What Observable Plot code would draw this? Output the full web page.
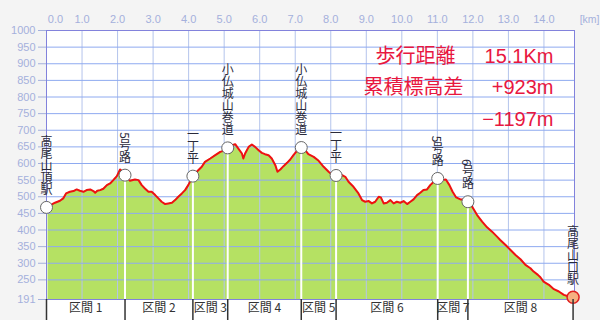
<!DOCTYPE html>
<html><head><meta charset="utf-8">
<script src="https://cdn.jsdelivr.net/npm/d3@7"></script>
<script src="https://cdn.jsdelivr.net/npm/@observablehq/plot@0.6"></script>
<style>
html,body{margin:0;padding:0;background:#f4f4f4;}
#chart svg{display:block;}
</style></head><body><div id="chart"></div>
<script>
// ---- data ----
const profileKm = [0.00,0.24,0.38,0.47,0.55,0.66,0.76,0.85,0.94,1.04,1.13,1.23,1.32,1.37,1.43,1.51,1.60,1.70,1.79,1.88,1.98,2.07,2.12,2.21,2.35,2.49,2.59,2.68,2.77,2.87,2.96,3.06,3.15,3.24,3.34,3.43,3.53,3.62,3.71,3.81,3.90,3.99,4.12,4.23,4.37,4.46,4.61,4.75,4.89,4.98,5.10,5.22,5.31,5.40,5.50,5.54,5.59,5.69,5.78,5.87,5.97,6.06,6.15,6.25,6.34,6.44,6.50,6.58,6.67,6.77,6.86,6.95,7.05,7.17,7.28,7.37,7.52,7.66,7.80,7.94,8.03,8.15,8.32,8.41,8.50,8.64,8.78,8.88,8.97,9.07,9.16,9.25,9.35,9.41,9.49,9.58,9.68,9.77,9.86,9.96,10.05,10.15,10.24,10.33,10.43,10.52,10.61,10.71,10.80,10.90,11.01,11.13,11.24,11.34,11.43,11.53,11.65,11.74,11.86,11.98,12.12,12.26,12.40,12.54,12.68,12.77,12.92,13.06,13.20,13.34,13.48,13.62,13.71,13.83,13.90,13.99,14.14,14.28,14.42,14.56,14.70,14.82];
const profileElev = [468,482,488,495,510,515,517,522,518,515,520,522,517,512,518,520,524,535,540,550,562,582,578,565,548,552,550,535,525,515,515,505,495,485,478,480,482,490,500,510,520,535,562,575,590,605,615,625,635,638,647,655,658,645,630,615,630,650,657,650,640,632,628,625,615,595,575,582,592,602,612,625,638,648,640,628,620,608,590,575,567,564,565,560,545,530,510,490,485,487,480,485,500,498,480,482,490,480,485,482,487,478,485,492,505,512,520,522,535,545,555,550,552,535,515,498,492,492,485,470,445,425,408,395,380,370,355,340,325,312,295,285,275,265,258,245,235,222,215,205,200,198];
const waypointNames = ["高尾山頂駅","5号路","一丁平","小仏城山巻道","小仏城山巻道","一丁平","5号路","6号路","高尾山口駅"];
const waypointKm = [0, 2.21, 4.12, 5.10, 7.17, 8.15, 11.01, 11.86, 14.82];
const waypointElev = [468, 565, 562, 647, 648, 564, 555, 485, 198];
const sectionLabels = ["区間 1","区間 2","区間 3","区間 4","区間 5","区間 6","区間 7","区間 8"];
const yTicks = [250,300,350,400,450,500,550,600,650,700,750,800,850,900,950,1000];
const yBottom = 191;
const xTicks = [0,1,2,3,4,5,6,7,8,9,10,11,12,13,14];
const xUnit = "[km]";
const summaryLabels = ["歩行距離","累積標高差",""];
const summaryValues = ["15.1Km","+923m","−1197m"];

// ---- layout ----
const W = 600, H = 320, mL = 46, mR = 26, mT = 30, mB = 21;
const xMax = 14.86;
const plotH = H - mT - mB;
const font = "'Liberation Sans', Arial, sans-serif";
const cjk = "'Noto Sans CJK JP', sans-serif";
const axisColor = "#a4b0dc";
const red = "#e8173f";
const summaryLabelDx = [-199, -211, 0];

const profile = profileKm.map((k, i) => ({km: k, elev: profileElev[i]}));
const waypoints = waypointNames.map((n, i) => ({name: n, km: waypointKm[i], elev: waypointElev[i]}));
const lastWp = waypoints.length - 1;
const sections = sectionLabels.map((s, i) => ({label: s, km: (waypointKm[i] + waypointKm[i + 1]) / 2}));

const summaryMarks = [];
summaryLabels.forEach((lab, i) => {
  const dy = 18 + 31.5 * i;
  if (lab) summaryMarks.push(Plot.text([lab], {text: d => d, frameAnchor: "top-right", dx: summaryLabelDx[i], dy, textAnchor: "start", fill: red, fontSize: 20, fontFamily: cjk}));
  summaryMarks.push(Plot.text([summaryValues[i]], {text: d => d, frameAnchor: "top-right", dx: -21, dy, textAnchor: "end", fill: red, fontSize: 20, fontFamily: font}));
});

const chart = Plot.plot({
  width: W, height: H,
  marginLeft: mL, marginRight: mR, marginTop: mT, marginBottom: mB,
  x: {domain: [0, xMax], axis: null},
  y: {domain: [yBottom, 1000], axis: null},
  style: {background: "transparent", fontFamily: font},
  marks: [
    Plot.frame({fill: "white"}),
    Plot.rect([0], {x1: 0, x2: xMax, insetTop: plotH, insetBottom: -mB, fill: "white"}),
    Plot.areaY(profile, {x: "km", y1: yBottom, y2: "elev", fill: "#b5e163"}),
    Plot.ruleX(xTicks.filter(d => d > 0), {stroke: "#b4c4ec", strokeWidth: 1}),
    Plot.ruleY(yTicks, {stroke: "#8eaaf0", strokeWidth: 1}),
    Plot.ruleX(waypoints, {x: "km", y1: yBottom, y2: "elev", stroke: "white", strokeWidth: 2}),
    Plot.line(profile, {x: "km", y: "elev", stroke: "#ee1111", strokeWidth: 2}),
    Plot.frame({stroke: "#8282dc"}),
    Plot.axisY([yBottom, ...yTicks], {tickSize: 8, tickPadding: 3, fontSize: 11, color: axisColor, label: null, tickFormat: d => String(d)}),
    Plot.text(xTicks.filter(d => d > 0), {x: d => d, text: d => d.toFixed(1), frameAnchor: "top", dy: -15, fill: axisColor, fontSize: 11}),
    Plot.text(xTicks.filter(d => d === 0), {x: d => d, text: d => d.toFixed(1), frameAnchor: "top", dy: -15, dx: 9, fill: axisColor, fontSize: 11}),
    Plot.text([xUnit], {text: d => d, frameAnchor: "top-right", dx: 25, dy: -15, textAnchor: "end", fill: axisColor, fontSize: 10.5}),
    Plot.dot(waypoints.slice(0, lastWp), {x: "km", y: "elev", r: 6, fill: "white", stroke: "#666", strokeWidth: 1}),
    Plot.dot(waypoints.slice(lastWp), {x: "km", y: "elev", r: 6, fill: "#f6b080", stroke: "#e02020", strokeWidth: 1.5}),
    Plot.text(waypoints, {x: "km", y: "elev", text: "name", dy: -16, fontSize: 12, fill: "#2a2a3a", fontFamily: cjk}),
    Plot.text(sections, {x: "km", text: "label", frameAnchor: "bottom", dy: 12, fontSize: 12, fill: "#333", fontFamily: cjk}),
    Plot.ruleX(waypointKm, {insetTop: plotH, insetBottom: -mB, stroke: "#333", strokeWidth: 1.5}),
    ...summaryMarks
  ]
});
// vertical writing for waypoint labels
const nameSet = new Set(waypointNames);
chart.querySelectorAll("text").forEach(t => {
  if (nameSet.has(t.textContent) && t.children.length === 0) {
    t.setAttribute("writing-mode", "vertical-rl");
    t.setAttribute("text-anchor", "end");
    t.removeAttribute("dy");
  }
});
document.getElementById("chart").append(chart);
</script>
</body></html>
